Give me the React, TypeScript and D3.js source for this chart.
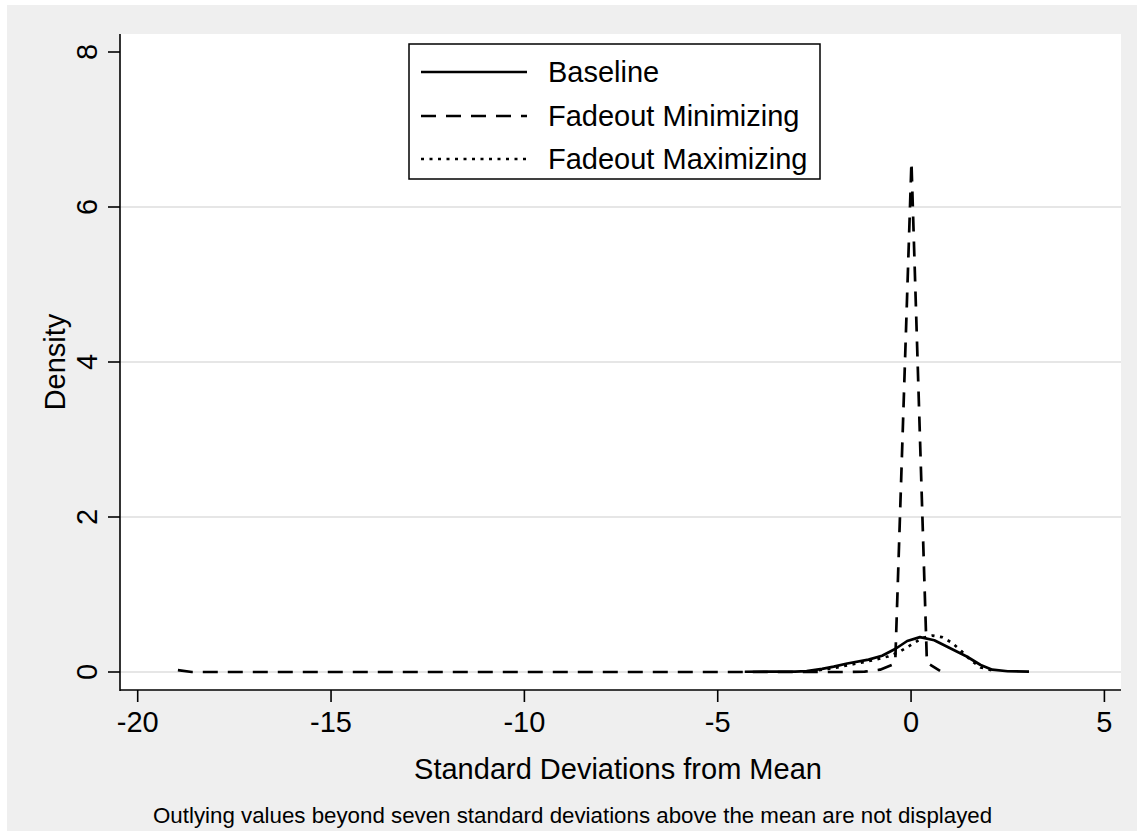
import React from "react";
import * as d3 from "d3";

// Kernel density estimates, x in standard deviations from the mean
const baselineX = [-4.3, -3.6, -3.0, -2.7, -2.3, -2.0, -1.65, -1.1, -0.75, -0.4, -0.1, 0.23, 0.6, 1.0, 1.44, 1.8, 2.1, 2.5, 3.05];
const baselineY = [0.003, 0.004, 0.006, 0.012, 0.04, 0.07, 0.11, 0.16, 0.21, 0.3, 0.4, 0.45, 0.41, 0.31, 0.2, 0.09, 0.03, 0.01, 0.005];

const minimizingX = [-18.96, -18.6, -17, -15, -13, -11, -9, -7, -5, -3, -1.6, -1.2, -0.8, -0.41, 0.01, 0.41, 0.75];
const minimizingY = [0.025, 0.0, 0, 0, 0, 0, 0, 0, 0, 0, 0.0, 0.005, 0.03, 0.11, 6.58, 0.12, 0.015];

const maximizingX = [-2.6, -2.0, -1.5, -1.0, -0.6, -0.3, 0.0, 0.3, 0.55, 0.8, 1.05, 1.3, 1.55, 1.8, 2.1];
const maximizingY = [0.01, 0.05, 0.1, 0.15, 0.2, 0.26, 0.35, 0.44, 0.47, 0.45, 0.38, 0.27, 0.15, 0.06, 0.02];

const xTicks = [-20, -15, -10, -5, 0, 5];
const yTicks = [0, 2, 4, 6, 8];
const gridTicks = [0, 2, 4, 6];

const seriesNames = ["Baseline", "Fadeout Minimizing", "Fadeout Maximizing"];
const seriesDash = ["none", "15,10", "3,5.5"];

const W = 1137;
const H = 831;
const plot = { left: 120, right: 1121, top: 34, bottom: 690 };
const FONT = "'Liberation Sans', Arial, Helvetica, sans-serif";

export default function App() {
  const x = d3.scaleLinear().domain([-20, 5]).range([137.7, 1104.4]);
  const y = d3.scaleLinear().domain([0, 8]).range([672, 52]);

  const line = d3
    .line<[number, number]>()
    .x((d) => x(d[0]))
    .y((d) => y(d[1]));

  const series: [number, number][][] = [
    baselineX.map((v, i) => [v, baselineY[i]] as [number, number]),
    minimizingX.map((v, i) => [v, minimizingY[i]] as [number, number]),
    maximizingX.map((v, i) => [v, maximizingY[i]] as [number, number]),
  ];

  const legendRows = [72, 116, 159];

  return (
    <svg
      width={W}
      height={H}
      style={{ position: "absolute", left: 0, top: 0, display: "block" }}
      fontFamily={FONT}
    >
      <rect x={0} y={0} width={W} height={H} fill="#ffffff" />
      <rect x={7} y={5} width={W - 7} height={H - 5} fill="#efefef" />
      <rect
        x={plot.left}
        y={plot.top}
        width={plot.right - plot.left}
        height={plot.bottom - plot.top}
        fill="#ffffff"
      />

      {/* horizontal gridlines */}
      {gridTicks.map((t) => (
        <line
          key={"g" + t}
          x1={plot.left}
          x2={plot.right}
          y1={y(t)}
          y2={y(t)}
          stroke="#e6e6e6"
          strokeWidth={2}
        />
      ))}

      {/* density curves */}
      {series.map((pts, i) => (
        <path
          key={"s" + i}
          d={line(pts) || ""}
          fill="none"
          stroke="#000"
          strokeWidth={2.7}
          strokeDasharray={seriesDash[i]}
          strokeLinejoin="round"
        />
      ))}

      {/* axes */}
      <line x1={plot.left} x2={plot.left} y1={plot.top} y2={plot.bottom + 1} stroke="#000" strokeWidth={1.6} />
      <line x1={plot.left} x2={plot.right} y1={plot.bottom} y2={plot.bottom} stroke="#000" strokeWidth={1.6} />

      {yTicks.map((t) => (
        <g key={"y" + t}>
          <line x1={108} x2={plot.left} y1={y(t)} y2={y(t)} stroke="#000" strokeWidth={1.6} />
          <text
            transform={`translate(97,${y(t)}) rotate(-90)`}
            textAnchor="middle"
            fontSize={29}
            fill="#000"
          >
            {t}
          </text>
        </g>
      ))}

      {xTicks.map((t) => (
        <g key={"x" + t}>
          <line x1={x(t)} x2={x(t)} y1={plot.bottom} y2={plot.bottom + 12} stroke="#000" strokeWidth={1.6} />
          <text x={x(t)} y={732} textAnchor="middle" fontSize={29} fill="#000">
            {t}
          </text>
        </g>
      ))}

      <text
        transform={`translate(65,${(plot.top + plot.bottom) / 2}) rotate(-90)`}
        textAnchor="middle"
        fontSize={29}
        fill="#000"
      >
        Density
      </text>
      <text x={618} y={779} textAnchor="middle" fontSize={29} fill="#000">
        Standard Deviations from Mean
      </text>
      <text x={153} y={823} fontSize={22.3} fill="#000">
        Outlying values beyond seven standard deviations above the mean are not displayed
      </text>

      {/* legend */}
      <rect x={409} y={44} width={411} height={135} fill="#ffffff" stroke="#000" strokeWidth={1.5} />
      {seriesNames.map((name, i) => (
        <g key={"l" + i}>
          <line
            x1={421}
            x2={527}
            y1={legendRows[i]}
            y2={legendRows[i]}
            stroke="#000"
            strokeWidth={2.7}
            strokeDasharray={seriesDash[i]}
          />
          <text x={548} y={legendRows[i] + 10} fontSize={29} fill="#000">
            {name}
          </text>
        </g>
      ))}
    </svg>
  );
}
